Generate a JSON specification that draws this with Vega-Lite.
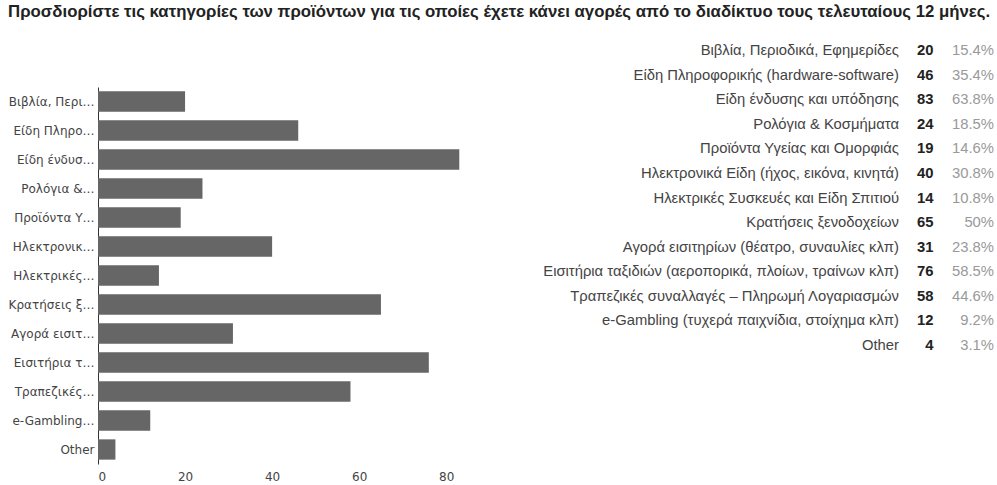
{
  "$schema": "https://vega.github.io/schema/vega-lite/v6.json",
  "background": "white",
  "padding": {"left": 8, "top": 4, "right": 3, "bottom": 0},
  "title": {
    "text": "Προσδιορίστε τις κατηγορίες των προϊόντων για τις οποίες έχετε κάνει αγορές από το διαδίκτυο τους τελευταίους 12 μήνες.",
    "anchor": "start",
    "font": "Liberation Sans",
    "fontSize": 16.8,
    "fontWeight": "bold",
    "color": "#222222",
    "offset": 22
  },
  "datasets": {
    "survey": [
      {"full": "Βιβλία, Περιοδικά, Εφημερίδες", "short": "Βιβλία, Περι…", "n": 20, "pct": "15.4%"},
      {"full": "Είδη Πληροφορικής (hardware-software)", "short": "Είδη Πληρο…", "n": 46, "pct": "35.4%"},
      {"full": "Είδη ένδυσης και υπόδησης", "short": "Είδη ένδυσ…", "n": 83, "pct": "63.8%"},
      {"full": "Ρολόγια & Κοσμήματα", "short": "Ρολόγια &…", "n": 24, "pct": "18.5%"},
      {"full": "Προϊόντα Υγείας και Ομορφιάς", "short": "Προϊόντα Υ…", "n": 19, "pct": "14.6%"},
      {"full": "Ηλεκτρονικά Είδη (ήχος, εικόνα, κινητά)", "short": "Ηλεκτρονικ…", "n": 40, "pct": "30.8%"},
      {"full": "Ηλεκτρικές Συσκευές και Είδη Σπιτιού", "short": "Ηλεκτρικές…", "n": 14, "pct": "10.8%"},
      {"full": "Κρατήσεις ξενοδοχείων", "short": "Κρατήσεις ξ…", "n": 65, "pct": "50%"},
      {"full": "Αγορά εισιτηρίων (θέατρο, συναυλίες κλπ)", "short": "Αγορά εισιτ…", "n": 31, "pct": "23.8%"},
      {"full": "Εισιτήρια ταξιδιών (αεροπορικά, πλοίων, τραίνων κλπ)", "short": "Εισιτήρια τ…", "n": 76, "pct": "58.5%"},
      {"full": "Τραπεζικές συναλλαγές – Πληρωμή Λογαριασμών", "short": "Τραπεζικές…", "n": 58, "pct": "44.6%"},
      {"full": "e-Gambling (τυχερά παιχνίδια, στοίχημα κλπ)", "short": "e-Gambling…", "n": 12, "pct": "9.2%"},
      {"full": "Other", "short": "Other", "n": 4, "pct": "3.1%"}
    ]
  },
  "spacing": 75,
  "hconcat": [
    {
      "width": 370,
      "height": 377,
      "data": {"name": "survey"},
      "mark": {"type": "bar", "color": "#666666"},
      "encoding": {
        "y": {
          "field": "short",
          "type": "nominal",
          "sort": null,
          "scale": {"paddingInner": 0.3, "paddingOuter": 0.15},
          "axis": {
            "title": null,
            "ticks": false,
            "domainColor": "#333333",
            "labelColor": "#444444",
            "labelFont": "DejaVu Sans",
            "labelFontSize": 12,
            "labelPadding": 4,
            "labelLimit": 200
          }
        },
        "x": {
          "field": "n",
          "type": "quantitative",
          "scale": {"domain": [0, 85]},
          "axis": {
            "title": null,
            "values": [0, 20, 40, 60, 80],
            "domain": false,
            "ticks": false,
            "grid": false,
            "labelColor": "#444444",
            "labelFont": "DejaVu Sans",
            "labelFontSize": 12,
            "labelPadding": 7
          }
        }
      }
    },
    {
      "width": 95,
      "height": 295,
      "data": {"name": "survey"},
      "encoding": {
        "y": {"field": "full", "type": "nominal", "sort": null, "scale": {"type": "point", "padding": 0}, "axis": null}
      },
      "layer": [
        {
          "mark": {"type": "text", "align": "right", "baseline": "middle", "font": "Liberation Sans", "fontSize": 14.8, "color": "#444444", "dy": -36},
          "encoding": {
            "x": {"datum": "label", "type": "nominal", "scale": {"type": "point", "domain": ["label", "n", "pct"], "padding": 0}, "axis": null},
            "text": {"field": "full"}
          }
        },
        {
          "mark": {"type": "text", "align": "right", "baseline": "middle", "font": "Liberation Sans", "fontSize": 14.8, "fontWeight": "bold", "color": "#222222", "dx": -13, "dy": -36},
          "encoding": {
            "x": {"datum": "n", "type": "nominal"},
            "text": {"field": "n"}
          }
        },
        {
          "mark": {"type": "text", "align": "right", "baseline": "middle", "font": "Liberation Sans", "fontSize": 14.8, "color": "#999999", "dy": -36},
          "encoding": {
            "x": {"datum": "pct", "type": "nominal"},
            "text": {"field": "pct"}
          }
        }
      ]
    }
  ],
  "config": {"view": {"stroke": null}}
}
